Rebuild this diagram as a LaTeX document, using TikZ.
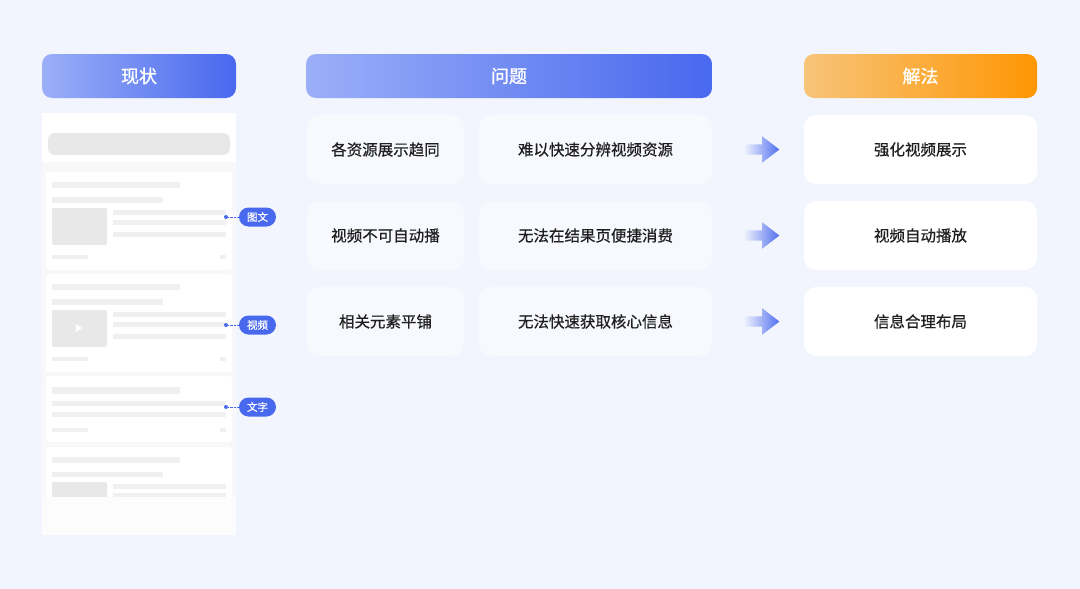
\documentclass[tikz,border=0pt]{standalone}
\usepackage{fontspec}
\setmainfont{Noto Sans CJK SC}
\newfontfamily\medfont{Noto Sans CJK SC}[FakeBold=0.6]
\newfontfamily\hdfont{Noto Sans CJK SC}[FakeBold=1.2]
\usetikzlibrary{positioning,calc,shapes.arrows}
\definecolor{bg}{HTML}{F2F5FD}
\definecolor{blueL}{HTML}{9BAFF8}
\definecolor{blueR}{HTML}{4868EE}
\definecolor{orL}{HTML}{F7C479}
\definecolor{orR}{HTML}{FF9603}
\definecolor{pbfill}{HTML}{F8F9FE}
\definecolor{ink}{HTML}{1F1F1F}
\definecolor{ln}{HTML}{F0F0F0}
\definecolor{img}{HTML}{E8E8E8}
\definecolor{panel}{HTML}{F8F8FA}

\begin{document}
\begin{tikzpicture}[x=1pt,y=-1pt,
  hd/.style={rounded corners=10pt,minimum height=44pt,text=white,font=\fontsize{18}{20}\hdfont},
  pb/.style={fill=pbfill,rounded corners=12pt,minimum height=69pt,text=ink,font=\fontsize{15.5}{18}\medfont},
  sl/.style={pb,fill=white,minimum width=233pt},
  arr/.style={single arrow,single arrow tip angle=75,single arrow head extend=8pt,inner sep=5pt,minimum height=36pt,left color=bg,middle color=blueR!65,right color=blueR!95},
  dot/.style={circle,fill=blueR,inner sep=0pt,minimum size=4pt},
  tag/.style={fill=blueR,rounded corners=9.5pt,minimum width=37pt,minimum height=19pt,inner sep=0pt,text=white,font=\fontsize{10.5}{12}\medfont}]
  \fill[bg] (0,0) rectangle (1080,589);

  % headers
  \node[hd,left color=blueL,right color=blueR,minimum width=194pt] (cur) at (139,76) {现状};
  \node[hd,left color=blueL,right color=blueR,minimum width=406pt] (prob) at (509,76) {问题};
  \node[hd,left color=orL,right color=orR,minimum width=233pt] (sol) at (920.5,76) {解法};

  % problems and solutions
  \foreach \i/\y/\a/\b/\c in {1/149.5/各资源展示趋同/难以快速分辨视频资源/强化视频展示,
      2/235.5/视频不可自动播/无法在结果页便捷消费/视频自动播放,
      3/321.5/相关元素平铺/无法快速获取核心信息/信息合理布局}{
    \node[pb,minimum width=157pt] (pa\i) at (385.5,\y) {\a};
    \node[pb,minimum width=233pt] (pb\i) at (595.5,\y) {\b};
    \node[sl] (s\i) at (920.5,\y) {\c};
    \node[arr] (ar\i) at ($(pb\i.east)!0.5!(s\i.west)$) {};
  }

  % current search page
  \fill[panel] (42,113) rectangle (236,535);
  \fill[white] (42,113) rectangle (236,162);
  \fill[img,rounded corners=7pt] (48,133) rectangle (230,155);
  \foreach \t in {172,274}{
    \begin{scope}[shift={(0,\t)}]
      \fill[white,rounded corners=3pt] (46,0) rectangle (232,98);
      \fill[ln] (52,10) rectangle (180,16);
      \fill[ln] (52,25) rectangle (163,31);
      \fill[img,rounded corners=2pt] (52,36) rectangle (107,73);
      \foreach \l in {38,48,60} \fill[ln] (113,\l) rectangle (226,\l+5);
      \fill[ln] (52,83) rectangle (88,87);
      \fill[ln] (220,83) rectangle (226,87);
    \end{scope}
  }
  \fill[white] (76,324) -- (82,328) -- (76,332) -- cycle;
  \fill[white,rounded corners=3pt] (46,376) rectangle (232,442);
  \fill[ln] (52,387) rectangle (180,394);
  \fill[ln] (52,401) rectangle (226,406);
  \fill[ln] (52,412) rectangle (226,417);
  \fill[ln] (52,428) rectangle (88,432);
  \fill[ln] (220,428) rectangle (226,432);
  \fill[white,rounded corners=3pt] (46,447) rectangle (232,510);
  \fill[ln] (52,457) rectangle (180,463);
  \fill[ln] (52,472) rectangle (163,477);
  \fill[img,rounded corners=2pt] (52,482) rectangle (107,505);
  \fill[ln] (113,484) rectangle (226,489);
  \fill[ln] (113,493) rectangle (226,497);
  \fill[white!60!panel] (42,497) rectangle (236,535);

  % type tags
  \foreach \i/\y/\t in {1/217/图文,2/325/视频,3/407/文字}{
    \node[dot] (d\i) at (226,\y) {};
    \node[tag] (t\i) at (257.5,\y) {\t};
    \draw[blueR,densely dotted] (d\i) -- (t\i);
  }
\end{tikzpicture}
\end{document}
